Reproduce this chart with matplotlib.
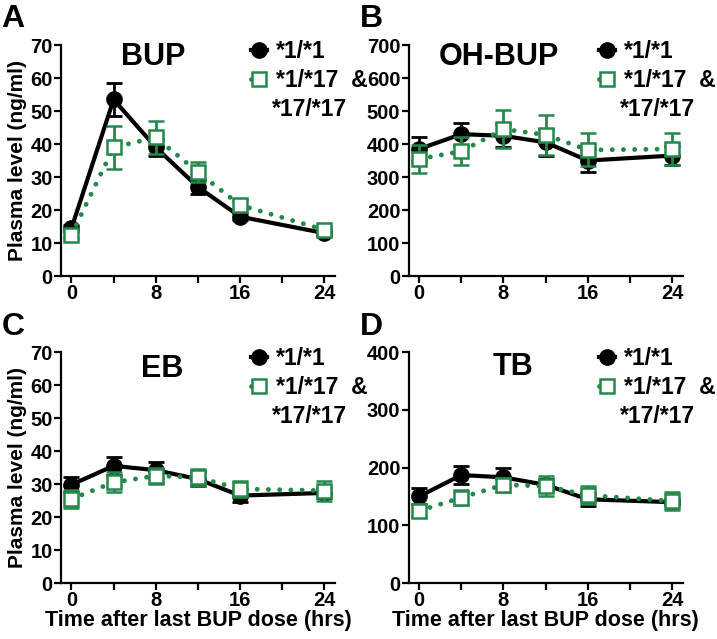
import matplotlib
matplotlib.use('Agg')
import matplotlib.pyplot as plt

plt.rcParams['font.family'] = ['Liberation Sans', 'DejaVu Sans']
plt.rcParams['font.weight'] = 'bold'
plt.rcParams['axes.labelweight'] = 'bold'

hours = [0, 4, 8, 12, 16, 24]

# BUP
bup_wt = [14.5, 53.5, 39, 27, 18, 13]
bup_wt_err = [1, 5, 2.5, 2, 1, 1]
bup_var = [12.5, 39, 42, 31.5, 21.5, 14]
bup_var_err = [1, 6.5, 5, 3, 1.5, 1]

# OH-BUP
oh_wt = [385, 430, 425, 405, 350, 365]
oh_wt_err = [35, 35, 35, 40, 35, 30]
oh_var = [355, 378, 445, 428, 382, 385]
oh_var_err = [43, 42, 58, 60, 50, 48]

# EB
eb_wt = [29.8, 35.5, 34.2, 31.5, 26.5, 27.3]
eb_wt_err = [2.3, 2.7, 2.5, 2, 2, 1.5]
eb_var = [25.5, 30.5, 32.5, 32, 28.5, 28]
eb_var_err = [2.8, 3, 2.5, 2.5, 2.5, 3]

# TB
tb_wt = [150, 187, 183, 170, 145, 140]
tb_wt_err = [14, 15, 16, 10, 11, 5]
tb_var = [125, 148, 170, 168, 152, 142]
tb_var_err = [11, 13, 12, 17, 16, 15]

panels = [
    ('A', 'BUP', bup_wt, bup_wt_err, bup_var, bup_var_err, 70, 10, (0.336, 0.948)),
    ('B', 'OH-BUP', oh_wt, oh_wt_err, oh_var, oh_var_err, 700, 100, (0.33, 0.948)),
    ('C', 'EB', eb_wt, eb_wt_err, eb_var, eb_var_err, 70, 10, (0.37, 0.925)),
    ('D', 'TB', tb_wt, tb_wt_err, tb_var, tb_var_err, 400, 100, (0.38, 0.935)),
]

green = '#23884a'
fig = plt.figure(figsize=(7.17, 6.39), dpi=100)
lefts = [0.085, 0.570]
bottoms = [0.568, 0.0876]
w, h = 0.382, 0.3615
letter_pos = [(0.002, 0.958), (0.502, 0.958), (0.002, 0.476), (0.502, 0.476)]

for i, (letter, name, wt, wte, var, vare, ymax, ystep, tpos) in enumerate(panels):
    ax = fig.add_axes([lefts[i % 2], bottoms[i // 2], w, h])
    eb1 = ax.errorbar(hours, wt, yerr=wte, color='black', lw=3, marker='o', ms=11,
                      mfc='black', mec='black', capsize=6, elinewidth=2, capthick=2,
                      zorder=3)
    eb2 = ax.errorbar(hours, var, yerr=vare, color=green, lw=3.5, ls=(0, (0.01, 2.3)),
                      dash_capstyle='round', marker='s', ms=10, mfc='white', mec=green,
                      mew=1.8, capsize=6, elinewidth=2, capthick=2, zorder=4)
    ax.set_xlim(-1, 25)
    ax.set_ylim(0, ymax)
    ax.set_xticks(range(0, 25, 4))
    ax.set_xticklabels(['0', '', '8', '', '16', '', '24'])
    ax.set_yticks(range(0, ymax + 1, ystep))
    for lab in ax.get_xticklabels() + ax.get_yticklabels():
        lab.set_fontweight('bold')
    for s in ['top', 'right']:
        ax.spines[s].set_visible(False)
    for s in ['left', 'bottom']:
        ax.spines[s].set_linewidth(1.6)
    ax.tick_params(width=1.6, length=5, labelsize=14.5, pad=1)
    ax.text(tpos[0], tpos[1], name, transform=ax.transAxes, ha='center', va='center',
            fontsize=22)
    leg = ax.legend([eb1[0], eb2[0]], ['*1/*1', '*1/*17  &'], loc='upper left',
                    bbox_to_anchor=(0.66, 1.06), frameon=False, prop={'size': 16.5, 'weight': 'bold'},
                    handlelength=0.7, handletextpad=0.4, labelspacing=0.25, borderaxespad=0)
    leg.set_zorder(1)
    ax.text(0.772, 0.722, '*17/*17', transform=ax.transAxes, ha='left', va='center',
            fontsize=16.5, zorder=1)
    if i % 2 == 0:
        ax.set_ylabel('Plasma level (ng/ml)', fontsize=15, labelpad=2)
    if i // 2 == 1:
        ax.set_xlabel('Time after last BUP dose (hrs)', fontsize=15.5, labelpad=0)
    fig.text(letter_pos[i][0], letter_pos[i][1], letter, fontsize=23, va='baseline',
             ha='left')

fig.savefig('out.png', dpi=100)
